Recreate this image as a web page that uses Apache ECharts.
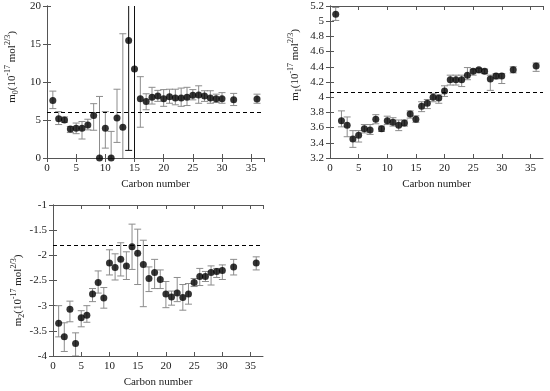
<!DOCTYPE html>
<html><head><meta charset="utf-8">
<script src="https://cdn.jsdelivr.net/npm/echarts@6/dist/echarts.min.js"></script>
<style>html,body{margin:0;padding:0;background:#fff}#c{width:550px;height:391px}</style>
</head><body><div id="c"></div>
<script>
// Carbon numbers
const carbon = [1,2,3,4,5,6,7,8,9,10,11,12,13,14,15,16,17,18,19,20,21,22,23,24,25,26,27,28,29,30,32,36];

// m0 (10^-17 mol^2/3)
const m0     = [7.55,5.15,5.0,3.8,3.9,3.9,4.35,5.6,0.0,3.9,0.0,5.25,4.05,15.45,11.7,7.8,7.45,8.0,8.15,7.8,8.05,7.9,7.9,8.0,8.25,8.3,8.15,7.9,7.8,7.8,7.65,7.75];
const m0Low  = [6.5,4.4,4.7,3.35,3.2,2.5,3.7,3.65,-0.5,1.3,-0.5,2.05,-0.5,1.0,-1.0,4.05,6.35,7.1,7.45,6.8,7.2,7.0,6.8,6.9,7.65,7.2,7.45,7.2,7.3,7.2,6.9,7.2];
const m0High = [8.8,6.1,5.4,4.15,4.6,4.8,5.1,7.15,8.1,6.1,3.5,9.05,16.35,25,25,10.7,8.45,9.3,8.9,9.0,9.05,9.05,9.2,9.3,9.0,9.5,8.85,8.85,8.4,8.6,8.5,8.4];
const m0Mean = 6.0;

// m1 (10^-17 mol^2/3)
const m1     = [5.09,3.69,3.63,3.45,3.5,3.585,3.57,3.71,3.585,3.69,3.67,3.63,3.66,3.78,3.71,3.88,3.92,4.0,3.99,4.08,4.23,4.23,4.23,4.29,4.34,4.36,4.34,4.24,4.28,4.28,4.36,4.41];
const m1Low  = [5.01,3.61,3.48,3.34,3.41,3.53,3.51,3.65,3.55,3.64,3.62,3.56,3.62,3.725,3.67,3.81,3.85,3.94,3.92,4.01,4.16,4.16,4.14,4.23,4.29,4.32,4.31,4.09,4.24,4.18,4.32,4.34];
const m1High = [5.18,3.82,3.74,3.56,3.56,3.64,3.64,3.77,3.62,3.75,3.73,3.70,3.70,3.82,3.755,3.94,3.97,4.05,4.03,4.15,4.29,4.29,4.29,4.39,4.37,4.38,4.37,4.29,4.31,4.31,4.40,4.45];
const m1Mean = 4.07;

// m2 (10^-17 mol^2/3)
const m2     = [-3.35,-3.62,-3.07,-3.75,-3.24,-3.19,-2.77,-2.54,-2.85,-2.15,-2.24,-2.08,-2.21,-1.83,-1.96,-2.18,-2.46,-2.34,-2.48,-2.77,-2.83,-2.75,-2.84,-2.77,-2.54,-2.42,-2.42,-2.34,-2.32,-2.30,-2.23,-2.15];
const m2Low  = [-3.62,-3.91,-3.32,-4.0,-3.42,-3.33,-2.92,-2.75,-3.05,-2.39,-2.49,-2.41,-2.48,-2.28,-2.58,-3.02,-2.72,-2.66,-2.66,-3.04,-2.99,-2.92,-3.09,-2.97,-2.62,-2.60,-2.52,-2.59,-2.44,-2.48,-2.39,-2.29];
const m2High = [-3.0,-3.34,-2.91,-3.54,-3.1,-3.0,-2.66,-2.31,-2.64,-1.89,-1.97,-1.75,-1.93,-1.38,-1.48,-1.70,-2.23,-2.08,-2.29,-2.52,-2.71,-2.44,-2.58,-2.56,-2.46,-2.26,-2.32,-2.21,-2.26,-2.19,-2.08,-2.03];
const m2Mean = -1.8;

// axis ticks
const xTicks = {min: 0, max: 37.2, interval: 5};
const y0Ticks = {min: 0, max: 20, interval: 5};
const y1Ticks = {min: 3.2, max: 5.2, interval: 0.2};
const y2Ticks = {min: -4, max: -1, interval: 0.5};

const FONT = 'Liberation Serif';
const chart = echarts.init(document.getElementById('c'), null, {renderer: 'canvas'});

const grids = [
  {left: 47, top: 6, width: 217, height: 152},
  {left: 330, top: 6, width: 213, height: 152},
  {left: 53, top: 205, width: 210, height: 151}
];
const yTicks = [y0Ticks, y1Ticks, y2Ticks];
const yNames = [
  'm{sub|0}(10{sup|-17} mol{sup|2/3})',
  'm{sub|1}(10{sup|-17} mol{sup|2/3})',
  'm{sub|2}(10{sup|-17} mol{sup|2/3})'
];
const namePad = [[0, 0, 0, 30], [0, 0, 0, 34], [0, 20, 0, 0]];
const nameRich = {
  sub: {fontFamily: FONT, fontSize: 8, lineHeight: 9, verticalAlign: 'bottom', color: '#222'},
  sup: {fontFamily: FONT, fontSize: 8, lineHeight: 9, verticalAlign: 'top', color: '#222'}
};
const frame = {show: true, lineStyle: {color: '#555', width: 1}};
const tick = {show: true, inside: true, length: 4, lineStyle: {color: '#555'}};

const xAxes = [], yAxes = [];
grids.forEach((g, i) => {
  const fmtX = v => (Math.abs(v % 5) < 1e-9 ? String(v) : '');
  xAxes.push({type: 'value', gridIndex: i, position: 'bottom', min: xTicks.min, max: xTicks.max, interval: xTicks.interval,
    axisLine: frame, axisTick: tick, splitLine: {show: false},
    axisLabel: {fontFamily: FONT, fontSize: 11, color: '#222', margin: 5, formatter: fmtX, showMaxLabel: false},
    name: 'Carbon number', nameLocation: 'middle', nameGap: 21,
    nameTextStyle: {fontFamily: FONT, fontSize: 11, color: '#222'}});
  xAxes.push({type: 'value', gridIndex: i, position: 'top', min: xTicks.min, max: xTicks.max, interval: xTicks.interval,
    axisLine: frame, axisTick: tick, splitLine: {show: false}, axisLabel: {show: false}});
  const yt = yTicks[i];
  yAxes.push({type: 'value', gridIndex: i, position: 'left', min: yt.min, max: yt.max, interval: yt.interval,
    axisLine: frame, axisTick: tick, splitLine: {show: false},
    axisLabel: {fontFamily: FONT, fontSize: 11, color: '#222', margin: 6},
    name: yNames[i], nameLocation: 'middle', nameGap: 27,
    nameTextStyle: {fontFamily: FONT, fontSize: 11, color: '#222', lineHeight: 16, rich: nameRich, padding: namePad[i]}});
  yAxes.push({type: 'value', gridIndex: i, position: 'right', min: yt.min, max: yt.max, interval: yt.interval,
    axisLine: frame, axisTick: tick, splitLine: {show: false}, axisLabel: {show: false}});
});

function errRender(params, api) {
  const x = api.value(0), lo = api.value(1), hi = api.value(2), ymax = api.value(3);
  const pLo = api.coord([x, lo]), pHi = api.coord([x, hi]);
  const w = 3.5;
  const style = {stroke: hi > ymax ? '#111' : '#8c8c8c', lineWidth: 1};
  return {type: 'group', children: [
    {type: 'line', shape: {x1: pLo[0], y1: pLo[1], x2: pHi[0], y2: pHi[1]}, style},
    {type: 'line', shape: {x1: pLo[0] - w, y1: pLo[1], x2: pLo[0] + w, y2: pLo[1]}, style},
    {type: 'line', shape: {x1: pHi[0] - w, y1: pHi[1], x2: pHi[0] + w, y2: pHi[1]}, style}
  ]};
}

const sets = [[m0, m0Low, m0High, m0Mean], [m1, m1Low, m1High, m1Mean], [m2, m2Low, m2High, m2Mean]];
const series = [];
sets.forEach(([v, lo, hi, mean], i) => {
  const ymax = yTicks[i].max;
  series.push({type: 'custom', xAxisIndex: 2 * i, yAxisIndex: 2 * i, clip: true,
    renderItem: errRender, encode: {x: 0, y: [1, 2]},
    data: carbon.map((c, k) => [c, lo[k], hi[k], ymax]), z: 2});
  series.push({type: 'scatter', xAxisIndex: 2 * i, yAxisIndex: 2 * i, symbol: 'circle', symbolSize: 7,
    itemStyle: {color: '#000'}, z: 3,
    data: carbon.map((c, k) => [c, v[k]]),
    markLine: {silent: true, symbol: 'none', label: {show: false},
      lineStyle: {color: '#000', type: [4, 3], width: 1.2},
      data: [{yAxis: mean}]}});
});

chart.setOption({animation: false, grid: grids, xAxis: xAxes, yAxis: yAxes, series});
</script></body></html>
